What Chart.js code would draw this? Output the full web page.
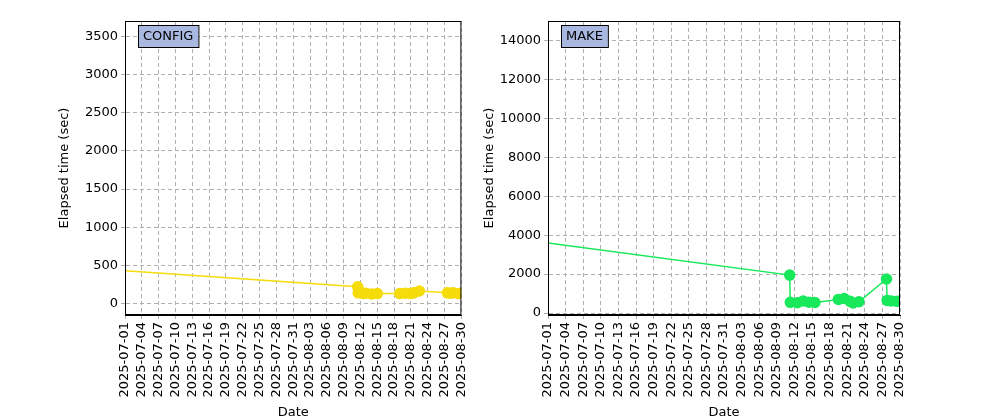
<!DOCTYPE html>
<html>
<head>
<script src="https://cdn.jsdelivr.net/npm/chart.js@4"></script>
<style>
body { margin: 0; background: #fff; }
.box { position: absolute; top: 0; height: 420px; }
</style>
</head>
<body>
<div class="box" style="left:55px;width:425px"><canvas id="config"></canvas></div>
<div class="box" style="left:480px;width:520px"><canvas id="make"></canvas></div>
<script>
// days since 2025-07-01
var dateLabels = ['2025-07-01','2025-07-04','2025-07-07','2025-07-10','2025-07-13','2025-07-16','2025-07-19',
  '2025-07-22','2025-07-25','2025-07-28','2025-07-31','2025-08-03','2025-08-06','2025-08-09','2025-08-12',
  '2025-08-15','2025-08-18','2025-08-21','2025-08-24','2025-08-27','2025-08-30'];

var configDays = [0, 41.5, 41.6, 42, 42.5, 43, 44, 45, 49, 50, 51, 51.5, 52.5, 57.5, 58, 58.5, 59.5];
var configVals = [430, 220, 140, 150, 130, 135, 125, 130, 130, 135, 130, 140, 165, 140, 135, 140, 130];

var makeDays = [0, 41.2, 41.3, 42.5, 43.5, 44.5, 45.5, 49.5, 50.5, 51.5, 52, 53, 57.7, 57.8, 58.5, 59.5, 60];
var makeVals = [3600, 1950, 550, 530, 620, 560, 540, 700, 750, 600, 520, 580, 1750, 650, 620, 600, 610];

Chart.defaults.font.family = 'DejaVu Sans';
Chart.defaults.color = '#000';

var titleBox = {
  id: 'titleBox',
  afterDraw: function (chart, args, opts) {
    var c = chart.ctx, a = chart.chartArea;
    c.save();
    c.font = '13px DejaVu Sans';
    var w = c.measureText(opts.text).width + 10;
    c.fillStyle = '#a9b8e0';
    c.fillRect(a.left + 13, a.top + 4, w, 22);
    c.strokeStyle = '#000';
    c.lineWidth = 1;
    c.strokeRect(a.left + 13.5, a.top + 4.5, w, 22);
    c.fillStyle = '#000';
    c.textBaseline = 'middle';
    c.fillText(opts.text, a.left + 18, a.top + 15.5);
    c.restore();
  }
};

function makeChart(id, name, days, vals, color, ymin, ymax, step, yw, padR) {
  var pts = days.map(function (d, i) { return { x: d, y: vals[i] }; });
  var radii = days.map(function (d, i) { return i === 0 ? 0 : 5; });
  return new Chart(document.getElementById(id), {
    type: 'line',
    data: { datasets: [{ data: pts, borderColor: color, backgroundColor: color,
      borderWidth: 1.5, pointRadius: radii, pointHoverRadius: radii, tension: 0 }] },
    options: {
      responsive: true, maintainAspectRatio: false, animation: false,
      layout: { padding: { top: 21, right: padR, left: 0, bottom: 0 } },
      plugins: { legend: { display: false }, tooltip: { enabled: false }, titleBox: { text: name } },
      scales: {
        x: {
          type: 'linear', min: 0, max: 60,
          afterBuildTicks: function (s) { s.ticks = dateLabels.map(function (l, i) { return { value: i * 3 }; }); },
          afterFit: function (s) { s.height = 105; },
          ticks: { maxRotation: 90, minRotation: 90, autoSkip: false, font: { size: 13 },
            callback: function (v) { return dateLabels[Math.round(v / 3)]; } },
          grid: { color: '#b0b0b0', tickLength: 4, drawTicks: true },
          border: { color: '#000', dash: [4, 3] },
          title: { display: true, text: 'Date', font: { size: 13 }, padding: 0 }
        },
        y: {
          min: ymin, max: ymax,
          afterBuildTicks: function (s) {
            var t = [];
            for (var v = 0; v <= ymax; v += step) t.push({ value: v });
            s.ticks = t;
          },
          afterFit: function (s) { s.width = yw; },
          ticks: { font: { size: 13 }, callback: function (v) { return String(v); } },
          grid: { color: '#b0b0b0', tickLength: 4 },
          border: { color: '#000', dash: [4, 3] },
          title: { display: true, text: 'Elapsed time (sec)', font: { size: 13 }, padding: 2 }
        }
      }
    },
    plugins: [titleBox, {
      id: 'frame',
      afterDraw: function (chart) {
        var c = chart.ctx, a = chart.chartArea;
        c.save(); c.strokeStyle = '#000'; c.lineWidth = 1;
        c.strokeRect(a.left + 0.5, a.top + 0.5, a.width - 1, a.height - 1);
        c.restore();
      }
    }]
  });
}

makeChart('config', 'CONFIG', configDays, configVals, '#f5dc0a', -150, 3700, 500, 70, -14);
makeChart('make', 'MAKE', makeDays, makeVals, '#18e85a', -100, 15000, 2000, 68, 100);
</script>
</body>
</html>
